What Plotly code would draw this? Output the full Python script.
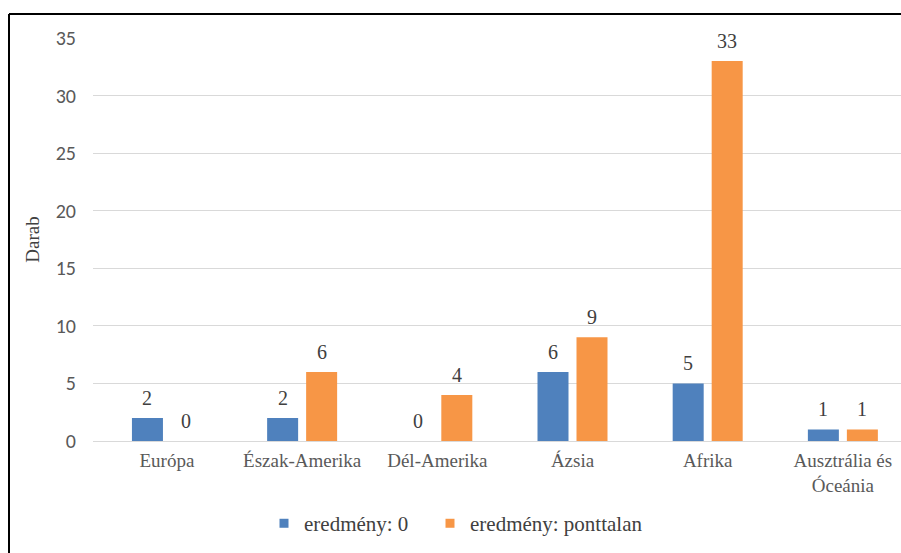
import plotly.graph_objects as go

# Continents and counts per result type
categories = ["Európa", "Észak-Amerika", "Dél-Amerika", "Ázsia", "Afrika", "Ausztrália és<br>Óceánia"]
series_zero = [2, 2, 0, 6, 5, 1]
series_pointless = [0, 6, 4, 9, 33, 1]
series_names = ["eredmény: 0", "eredmény: ponttalan"]
y_ticks = [0, 5, 10, 15, 20, 25, 30, 35]

BLUE = "#4f81bd"
ORANGE = "#f79646"
SERIF = "Liberation Serif, Times New Roman, serif"
SANS = "Carlito, Liberation Sans, Arial, sans-serif"

BARGAP = 0.423
BARGROUPGAP = 0.205
slot = (1 - BARGAP) / 2  # width of one series slot inside a group

W, H = 901, 553
L, R, T, B = 93, 0, 38, 112
pw = W - L - R
ph = H - T - B

fig = go.Figure()
series = [(series_names[0], series_zero, BLUE), (series_names[1], series_pointless, ORANGE)]
for name, vals, col in series:
    fig.add_trace(go.Bar(
        x=categories, y=vals, name=name,
        marker=dict(color=col, line=dict(width=0)),
        cliponaxis=False, showlegend=False, legendgroup=name,
    ))

# Legend entries with small square keys, one legend box per series
for (name, vals, col), lg in zip(series, ["legend", "legend2"]):
    fig.add_trace(go.Scatter(
        x=[None], y=[None], mode="markers", name=name, legendgroup=name, legend=lg,
        marker=dict(symbol="square", size=9, color=col),
    ))

# Value labels above each bar
for k, vals in enumerate([series_zero, series_pointless]):
    off = (k - 0.5) * slot
    for i, v in enumerate(vals):
        fig.add_annotation(
            x=i + off, y=v, xref="x", yref="y",
            text=str(v), showarrow=False,
            xanchor="center", yanchor="bottom", yshift=7,
            font=dict(family=SERIF, size=20, color="#404040"),
        )

legend_style = dict(orientation="h", xanchor="left", y=-0.205, yanchor="middle",
                    font=dict(family=SERIF, size=21, color="#404040"),
                    itemwidth=30, bgcolor="rgba(0,0,0,0)")

fig.update_layout(
    width=W, height=H,
    margin=dict(l=L, r=R, t=T, b=B, autoexpand=False),
    paper_bgcolor="white", plot_bgcolor="white",
    barmode="group", bargap=BARGAP, bargroupgap=BARGROUPGAP,
    showlegend=True,
    legend=dict(x=(264 - L) / pw, **legend_style),
    legend2=dict(x=(430 - L) / pw, **legend_style),
    xaxis=dict(
        type="category", range=[-0.547, 5.43],
        showgrid=False, showline=False, ticks="",
        tickfont=dict(family=SERIF, size=19, color="#595959"),
        ticklabelstandoff=6,
    ),
    yaxis=dict(
        range=[0, 35], tickvals=y_ticks,
        showgrid=True, gridcolor="#d9d9d9", gridwidth=1,
        zeroline=True, zerolinecolor="#d9d9d9", zerolinewidth=1,
        showline=False, ticks="",
        tickfont=dict(family=SANS, size=20, color="#595959"),
        ticklabelstandoff=16,
        title=dict(text="Darab", font=dict(family=SERIF, size=19, color="#404040"), standoff=11),
    ),
)

# Outer frame (left and top edges visible in the page)
x_left = (9 - L) / pw
y_top = 1 + (T - 14) / ph
fig.add_shape(type="line", xref="paper", yref="paper", x0=x_left, x1=x_left, y0=-2, y1=y_top,
              line=dict(color="black", width=2))
fig.add_shape(type="line", xref="paper", yref="paper", x0=x_left, x1=1.2, y0=y_top, y1=y_top,
              line=dict(color="black", width=2))

fig.write_html("out.html")
